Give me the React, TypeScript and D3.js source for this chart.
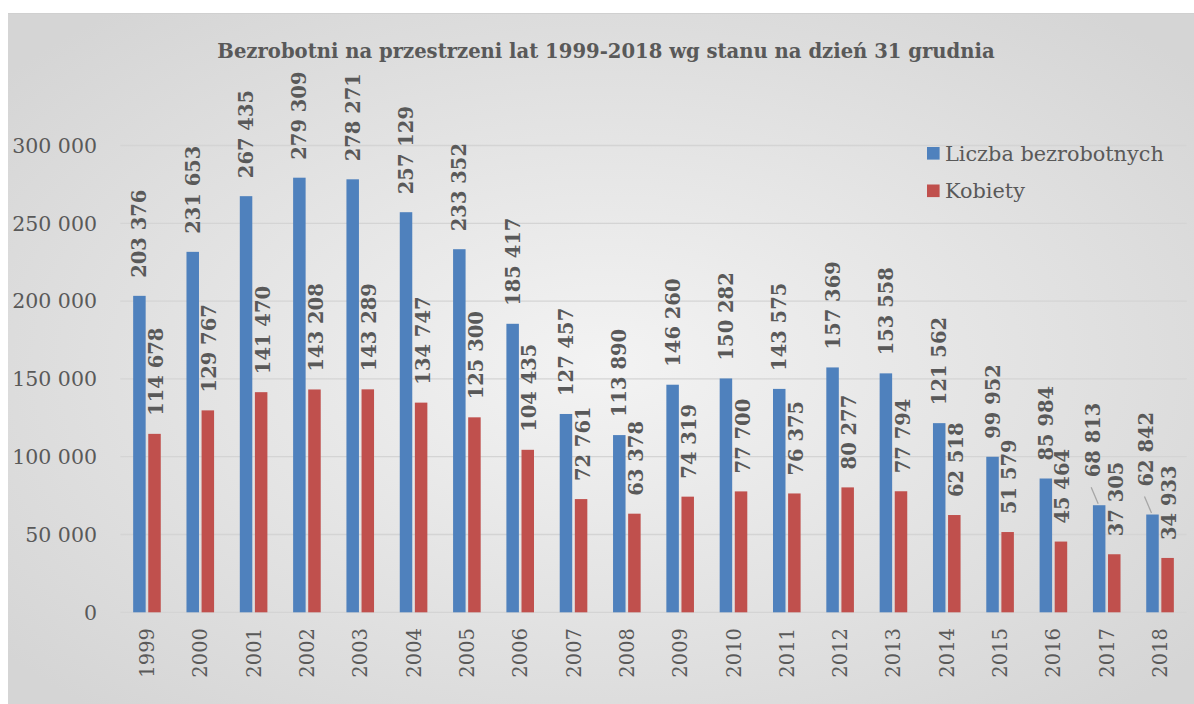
import React from "react";
import * as d3 from "d3";

const years = ["1999","2000","2001","2002","2003","2004","2005","2006","2007","2008","2009","2010","2011","2012","2013","2014","2015","2016","2017","2018"];
const unemployed = [203376,231653,267435,279309,278271,257129,233352,185417,127457,113890,146260,150282,143575,157369,153558,121562,99952,85984,68813,62842];
const women = [114678,129767,141470,143208,143289,134747,125300,104435,72761,63378,74319,77700,76375,80277,77794,62518,51579,45464,37305,34933];
const yTicks = [0,50000,100000,150000,200000,250000,300000];
const seriesNames = ["Liczba bezrobotnych","Kobiety"];
const title = "Bezrobotni na przestrzeni lat 1999-2018 wg stanu na dzień 31 grudnia";
const leaderYears = ["2017","2018"];

const W = 1194, H = 704;
const BLUE = "#4f81bd", RED = "#c0504d", TXT = "#595959";
const FONT = "'DejaVu Serif', serif";

const fmt = (v: number) => {
  const s = String(v);
  return s.length > 3 ? s.slice(0, s.length - 3) + " " + s.slice(-3) : s;
};

export default function App() {
  const x = d3.scaleBand<string>().domain(years).range([120.3, 1186.7]);
  const y = d3.scaleLinear().domain([0, 300000]).range([612.3, 145.5]);
  const bw = 12.5, gap = 1.3;
  const cx = (yr: string) => (x(yr) as number) + x.bandwidth() / 2;

  return (
    <svg width={W} height={H} style={{ position: "absolute", left: 0, top: 0 }} fontFamily={FONT}>
      <defs>
        <radialGradient id="bg" cx="50%" cy="50%" r="65%">
          <stop offset="0" stopColor="#f3f3f3" />
          <stop offset="1" stopColor="#d5d5d5" />
        </radialGradient>
      </defs>
      <rect x={0} y={0} width={W} height={H} fill="#ffffff" />
      <rect x={8} y={13} width={W} height={H} fill="url(#bg)" />
      <line x1={8} x2={W} y1={13.5} y2={13.5} stroke="#d0d0d0" />

      <text x={606} y={58} textAnchor="middle" fontWeight="bold" fontSize={19.6} fill={TXT}>{title}</text>

      {yTicks.map((t) => (
        <g key={t}>
          <line x1={120.3} x2={1186.7} y1={y(t)} y2={y(t)} stroke="#d4d4d4" strokeWidth={1.3} />
          <text x={97} y={y(t)} dy="0.36em" textAnchor="end" fontSize={20.5} fill={TXT}>{fmt(t)}</text>
        </g>
      ))}

      {years.map((yr, i) => {
        const c = cx(yr);
        const bx = c - gap - bw, rx = c + gap;
        const by = y(unemployed[i]), ry = y(women[i]);
        const lead = leaderYears.includes(yr);
        const blx = bx + bw / 2 + (lead ? -6.5 : 0);
        const bly = by - 18 - (lead ? 10 : 0);
        const rlx = rx + bw / 2 + 1.5;
        const rly = ry - 18;
        return (
          <g key={yr}>
            <rect x={bx} y={by} width={bw} height={y(0) - by} fill={BLUE} />
            <rect x={rx} y={ry} width={bw} height={y(0) - ry} fill={RED} />
            {lead && (
              <line x1={bx + bw / 2 - 8} y1={by - 18} x2={bx + bw / 2 - 1} y2={by - 1.5} stroke="#a6a6a6" strokeWidth={1.3} />
            )}
            <text transform={`translate(${blx},${bly}) rotate(-90)`} dy="0.36em" fontWeight="bold" fontSize={19.5} fill={TXT}>{fmt(unemployed[i])}</text>
            <text transform={`translate(${rlx},${rly}) rotate(-90)`} dy="0.36em" fontWeight="bold" fontSize={19.5} fill={TXT}>{fmt(women[i])}</text>
            <text transform={`translate(${c},${628}) rotate(-90)`} dy="0.36em" textAnchor="end" fontSize={19.5} fill={TXT}>{yr}</text>
          </g>
        );
      })}

      {seriesNames.map((n, i) => (
        <g key={n}>
          <rect x={927} y={147 + i * 37.5} width={12.6} height={12.6} fill={i === 0 ? BLUE : RED} />
          <text x={945} y={153.5 + i * 37.5} dy="0.36em" fontSize={20.8} fill={TXT}>{n}</text>
        </g>
      ))}
    </svg>
  );
}
